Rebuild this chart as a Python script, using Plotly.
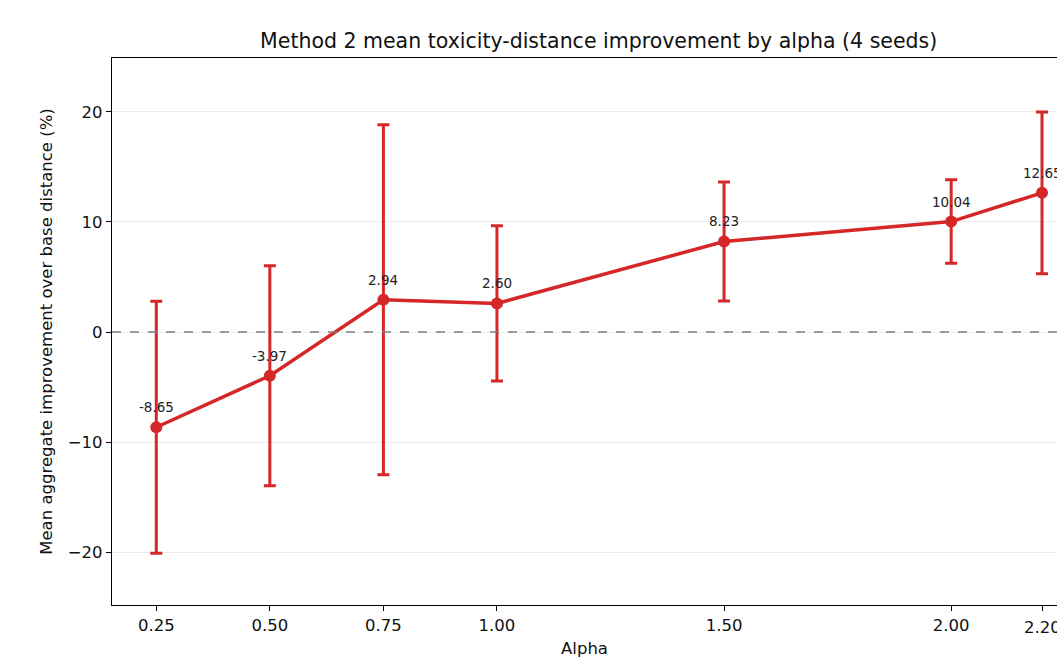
import plotly.graph_objects as go

alpha = [0.25, 0.50, 0.75, 1.00, 1.50, 2.00, 2.20]
mean_improvement = [-8.65, -3.97, 2.94, 2.60, 8.23, 10.04, 12.65]
err = [11.45, 10.0, 15.9, 7.05, 5.4, 3.8, 7.35]
tick_vals = [0.25, 0.50, 0.75, 1.00, 1.50, 2.00, 2.20]
tick_text = ["0.25", "0.50", "0.75", "1.00", "1.50", "2.00", "2.20"]

red = "#d62728"
font = "DejaVu Sans"
tick_size = 16.5

fig = go.Figure()
fig.add_trace(go.Scatter(
    x=alpha, y=mean_improvement, mode="lines+markers",
    line=dict(color=red, width=3.5),
    marker=dict(color=red, size=12),
    error_y=dict(type="data", array=err, visible=True, color=red, thickness=3, width=6),
    showlegend=False, cliponaxis=False, hoverinfo="skip",
))

for a, m in zip(alpha, mean_improvement):
    fig.add_annotation(x=a, y=m, text=f"{m:.2f}", showarrow=False, yshift=20,
                       font=dict(family=font, size=13.5, color="#222"))

# last tick label (plotly drops it because it touches the page edge)
fig.add_annotation(x=tick_vals[-1], y=0, xref="x", yref="paper", text=tick_text[-1],
                   showarrow=False, yanchor="middle", yshift=-22,
                   font=dict(family=font, size=tick_size, color="#111"))

fig.add_hline(y=0, line=dict(color="#808080", width=1.5, dash="dash"))

fig.update_layout(
    width=1057, height=658,
    margin=dict(l=112, r=0, t=58, b=53),
    plot_bgcolor="white", paper_bgcolor="white",
    font=dict(family=font, size=16.5, color="#111"),
    title=dict(text="Method 2 mean toxicity-distance improvement by alpha (4 seeds)",
               xref="paper", x=0.515, xanchor="center", y=1 - 41 / 658, yanchor="middle",
               font=dict(family=font, size=20.5, color="#111")),
)
fig.update_xaxes(
    range=[0.1525, 2.233], tickvals=tick_vals, ticktext=tick_text,
    showgrid=False, zeroline=False, showline=True, mirror=True,
    linecolor="black", linewidth=1.2, ticks="outside", ticklen=5, tickcolor="black",
    title=dict(text="Alpha", standoff=10, font=dict(size=16.5)),
    tickfont=dict(size=tick_size),
)
fig.update_yaxes(
    range=[-24.8, 24.9], tickvals=[-20, -10, 0, 10, 20],
    showgrid=True, gridcolor="#ebebeb", gridwidth=1, zeroline=False,
    showline=True, mirror=False, linecolor="black", linewidth=1.2,
    ticks="outside", ticklen=5, tickcolor="black",
    title=dict(text="Mean aggregate improvement over base distance (%)", standoff=10,
               font=dict(size=16.5)),
    tickfont=dict(size=tick_size),
)

fig.write_html("out.html", config={"displayModeBar": False},
               post_script="document.body.style.margin='0';document.body.style.overflow='hidden';")
